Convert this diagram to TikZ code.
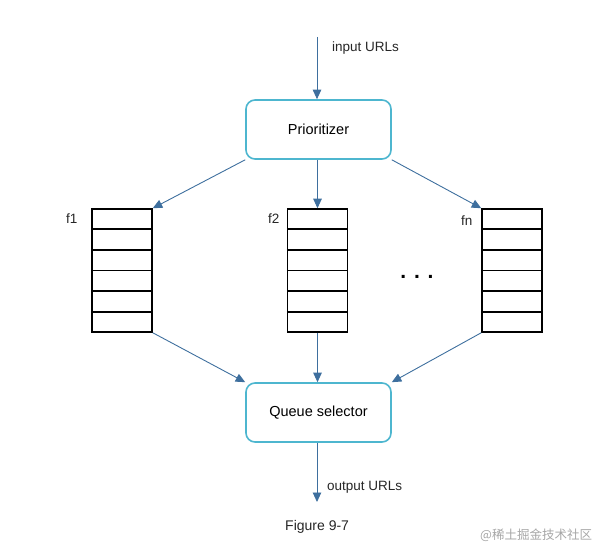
\documentclass[tikz,border=0pt]{standalone}
\usepackage{fontspec}
\setmainfont{Liberation Sans}
\newfontfamily\cjk{Noto Sans CJK SC}
\usetikzlibrary{arrows.meta,calc}
\definecolor{boxblue}{HTML}{4DB6CF}
\definecolor{arrblue}{HTML}{3E6F9E}
\tikzset{
  procbox/.style={draw=boxblue, line width=1.6pt, rounded corners=9pt, minimum width=145pt, minimum height=59pt, inner sep=0pt, font=\fontsize{14.5}{16}\selectfont},
  queuebox/.style={draw=black, line width=1.5pt, minimum width=60pt, minimum height=123pt, inner sep=0pt},
  arr/.style={draw=arrblue, line width=0.9pt, -{Triangle[length=9.5pt,width=8.5pt]}},
  lbl/.style={font=\fontsize{13.5}{15}\selectfont, inner sep=0pt, text=black!85},
}
\begin{document}
\begin{tikzpicture}[x=1pt,y=-1pt]
\useasboundingbox (0,0) rectangle (596,545);
\node[procbox] (p) at (318.5,129.5) {Prioritizer};
\node[procbox] (s) at (318.5,412.5) {Queue selector};
\coordinate (in) at (317,37);
\coordinate (out) at (317,502);
\node[queuebox] (q1) at (122,270.5) {};
\node[queuebox] (q2) at (317.5,270.5) {};
\node[queuebox] (qn) at (512,270.5) {};
\foreach \q in {q1,q2,qn}{
  \foreach \i in {1,...,5}{
    \draw[line width=1.6pt] ($(\q.north west)!\i/6!(\q.south west)$) -- ($(\q.north east)!\i/6!(\q.south east)$);
  }
}
\node[lbl, anchor=west] (lq1) at (66,219) {f1};
\node[lbl, anchor=west] (lq2) at (268,219) {f2};
\node[lbl, anchor=west] (lqn) at (461,221) {fn};
\node[font=\fontsize{21}{21}\selectfont\bfseries, inner sep=0pt] (dots) at (417,277) {. . .};
\node[lbl, anchor=west] (lin) at (332,48) {input URLs};
\node[lbl, anchor=west] (lout) at (327,487) {output URLs};
\node[lbl, anchor=west, font=\fontsize{14}{16}\selectfont] (fig) at (285,527) {Figure 9-7};
\node[font=\cjk\fontsize{12.5}{14}\selectfont, text=black!35, anchor=west, inner sep=0pt] (wm) at (480,535) {@稀土掘金技术社区};
\draw[arr] (in) -- (p.north -| in);
\draw[arr] (p.south west) -- (q1.north east);
\draw[arr] (p.south -| q2.north) -- (q2.north);
\draw[arr] (p.south east) -- (qn.north west);
\draw[arr] (q1.south east) -- (s.north west);
\draw[arr] (q2.south) -- (s.north -| q2.south);
\draw[arr] (qn.south west) -- (s.north east);
\draw[arr] (s.south -| out) -- (out);
\end{tikzpicture}
\end{document}
